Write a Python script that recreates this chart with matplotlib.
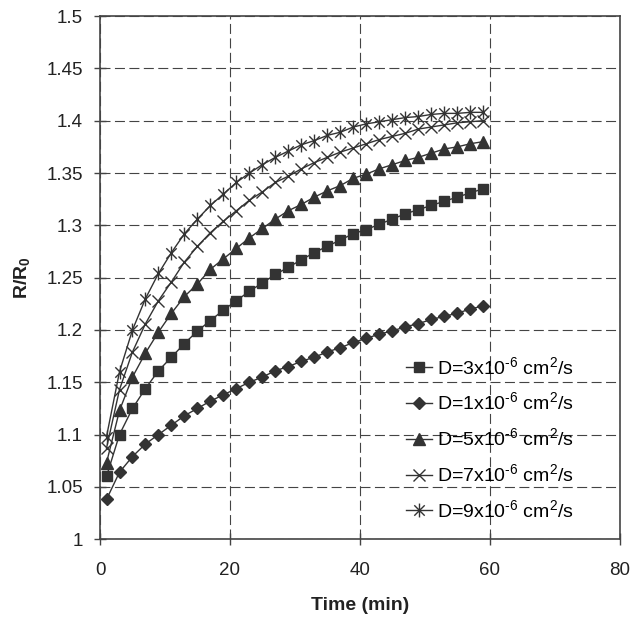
import matplotlib
matplotlib.use('Agg')
from matplotlib import pyplot as plt
from matplotlib.path import Path

plt.rcParams['font.family'] = ['Liberation Sans', 'DejaVu Sans']
plt.rcParams['mathtext.fontset'] = 'custom'
plt.rcParams['mathtext.rm'] = 'Liberation Sans'
plt.rcParams['mathtext.it'] = 'Liberation Sans:italic'
plt.rcParams['mathtext.bf'] = 'Liberation Sans:bold'

# time points (min)
time = list(range(1, 60, 2))

d3 = [1.060, 1.100, 1.125, 1.144, 1.161, 1.174, 1.187, 1.199, 1.209, 1.219,
      1.228, 1.237, 1.245, 1.253, 1.260, 1.267, 1.274, 1.280, 1.286, 1.292,
      1.296, 1.301, 1.306, 1.311, 1.315, 1.319, 1.323, 1.327, 1.331, 1.335]
d1 = [1.038, 1.064, 1.079, 1.091, 1.100, 1.109, 1.118, 1.125, 1.132, 1.138,
      1.144, 1.150, 1.155, 1.161, 1.165, 1.170, 1.174, 1.179, 1.183, 1.188,
      1.192, 1.196, 1.199, 1.203, 1.206, 1.210, 1.213, 1.216, 1.220, 1.223]
d5 = [1.073, 1.123, 1.155, 1.178, 1.198, 1.216, 1.232, 1.244, 1.258, 1.268,
      1.278, 1.288, 1.297, 1.306, 1.314, 1.320, 1.327, 1.333, 1.338, 1.345,
      1.349, 1.354, 1.358, 1.362, 1.365, 1.369, 1.373, 1.375, 1.378, 1.380]
d7 = [1.087, 1.143, 1.179, 1.206, 1.228, 1.246, 1.265, 1.280, 1.293, 1.304,
      1.314, 1.324, 1.332, 1.341, 1.347, 1.354, 1.360, 1.365, 1.370, 1.374,
      1.378, 1.382, 1.385, 1.388, 1.392, 1.394, 1.396, 1.398, 1.399, 1.400]
d9 = [1.098, 1.160, 1.200, 1.230, 1.254, 1.274, 1.292, 1.306, 1.319, 1.330,
      1.341, 1.350, 1.358, 1.365, 1.371, 1.377, 1.381, 1.386, 1.389, 1.394,
      1.397, 1.399, 1.401, 1.403, 1.404, 1.406, 1.407, 1.407, 1.408, 1.408]

labels = ['D=3x10$^{\\text{-6}}$ cm$^{2}$/s', 'D=1x10$^{\\text{-6}}$ cm$^{2}$/s',
          'D=5x10$^{\\text{-6}}$ cm$^{2}$/s', 'D=7x10$^{\\text{-6}}$ cm$^{2}$/s',
          'D=9x10$^{\\text{-6}}$ cm$^{2}$/s']

# excel style star: x plus vertical bar
star = Path([(-0.75, -0.75), (0.75, 0.75), (-0.75, 0.75), (0.75, -0.75), (0, -1), (0, 1)],
            [Path.MOVETO, Path.LINETO, Path.MOVETO, Path.LINETO, Path.MOVETO, Path.LINETO])

col = '#333333'
fig = plt.figure(figsize=(6.35, 6.19), dpi=100)
ax = fig.add_axes([0.1575, 0.129, 0.8185, 0.845])

ax.plot(time, d3, color=col, lw=1, marker='s', ms=7, mfc=col, mec=col, label=labels[0])
ax.plot(time, d1, color=col, lw=1, marker='D', ms=6.5, mfc=col, mec=col, label=labels[1])
ax.plot(time, d5, color=col, lw=1, marker='^', ms=8, mfc=col, mec=col, label=labels[2])
ax.plot(time, d7, color=col, lw=1, marker='x', ms=8, mew=1, mec=col, label=labels[3])
ax.plot(time, d9, color=col, lw=1, marker=star, ms=10, mew=1, mec=col, label=labels[4])

ax.set_xlim(0, 80)
ax.set_ylim(1, 1.5)
ax.set_xticks([0, 20, 40, 60, 80])
ax.set_yticks([1, 1.05, 1.1, 1.15, 1.2, 1.25, 1.3, 1.35, 1.4, 1.45, 1.5])
ax.set_yticklabels(['1', '1.05', '1.1', '1.15', '1.2', '1.25', '1.3', '1.35', '1.4', '1.45', '1.5'])
ax.grid(True, color='#444444', linestyle=(0, (9, 4)), linewidth=0.8)
ax.tick_params(direction='inout', length=8.5, width=1, color='#444444', labelsize=13.5,
               labelcolor='#222222')
ax.tick_params(axis='x', pad=12)
ax.tick_params(axis='y', pad=8)
for s in ax.spines.values():
    s.set_color('#444444')
    s.set_linewidth(1.2)

ax.set_xlabel('Time (min)', fontsize=14, fontweight='bold', labelpad=13, color='#222222')
ax.set_ylabel('R/R$_\\mathbf{0}$', fontsize=14, fontweight='bold', labelpad=10, color='#222222')

ax.legend(loc='upper left', bbox_to_anchor=(0.555, 0.384), frameon=False,
          fontsize=14, handlelength=1.35, handletextpad=0.25, labelspacing=0.72)

plt.savefig('out.png')
